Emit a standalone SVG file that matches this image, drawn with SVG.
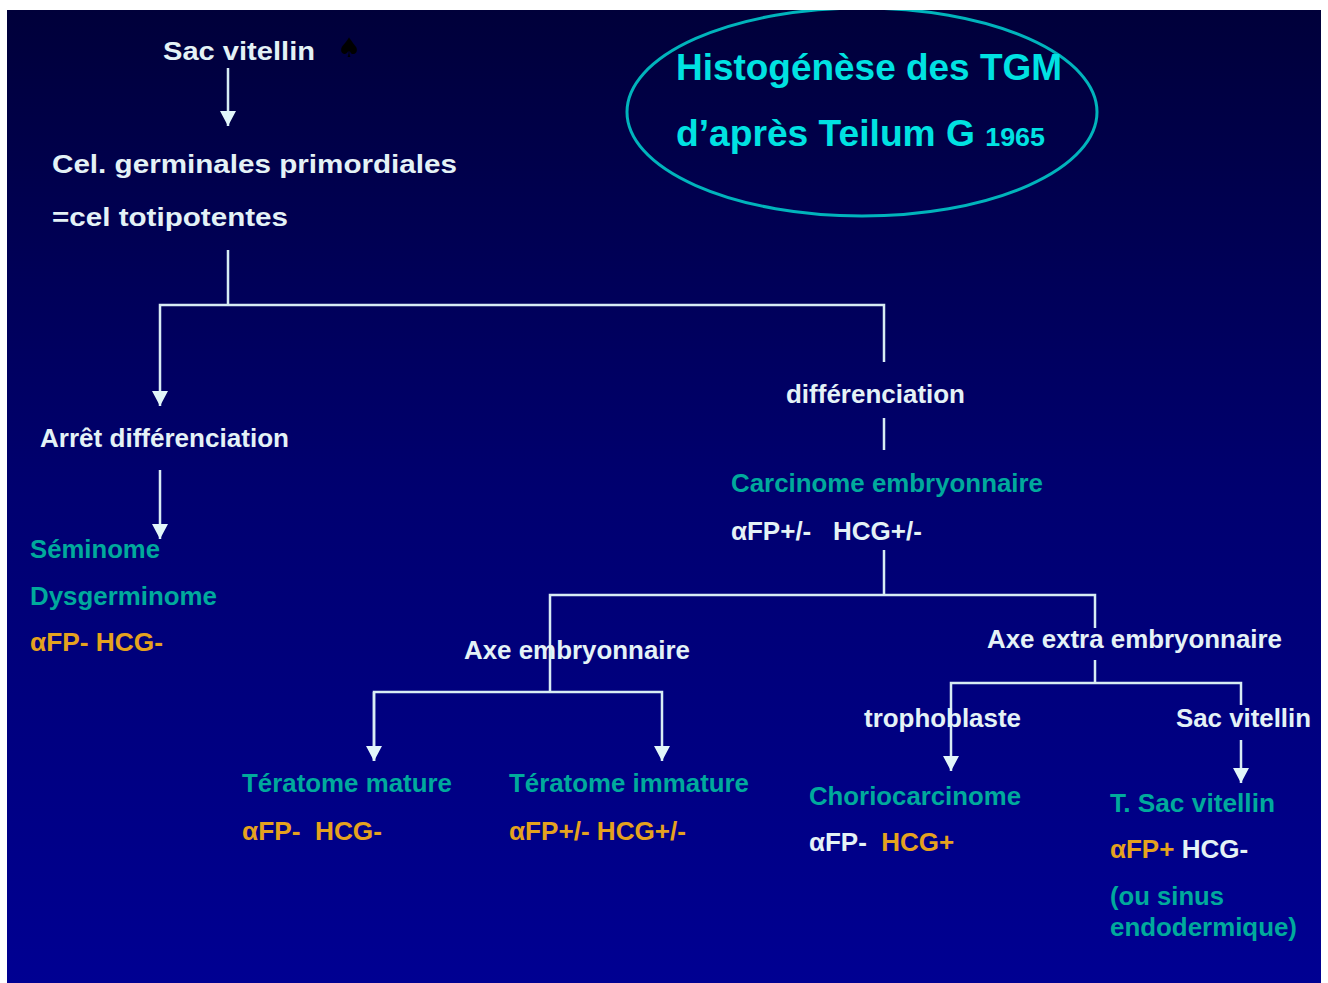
<svg xmlns="http://www.w3.org/2000/svg" width="1328" height="983" viewBox="0 0 1328 983">
<defs>
<linearGradient id="bg" x1="0" y1="0" x2="0" y2="1">
<stop offset="0" stop-color="#00003a"/>
<stop offset="0.5" stop-color="#000070"/>
<stop offset="1" stop-color="#000092"/>
</linearGradient>
<marker id="ah" markerUnits="userSpaceOnUse" markerWidth="16" markerHeight="16" refX="15" refY="8" orient="auto" viewBox="0 0 16 16">
<path d="M0,0 L15,8 L0,16 z" fill="#e2f6fa"/>
</marker>
<style>
text{font-family:"Liberation Sans",Arial,sans-serif;font-weight:bold;font-size:26px}
.w{fill:#e4f2f6}
.t{fill:#00aa9c}
.o{fill:#e5a21e}
.c{fill:#00e2e2;font-size:36px}
.ln{stroke:#d8ecf4;stroke-width:2.5;fill:none}
.ar{marker-end:url(#ah)}
</style>
</defs>
<rect x="0" y="0" width="1328" height="983" fill="#ffffff"/>
<rect x="7" y="10" width="1314" height="973" fill="url(#bg)"/>
<g id="title">
<ellipse cx="862" cy="112" rx="235" ry="104" fill="none" stroke="#00b4bc" stroke-width="3"/>
<text class="c" x="676" y="80" textLength="386" lengthAdjust="spacingAndGlyphs">Histogénèse des TGM</text>
<text class="c" x="676" y="146" textLength="369" lengthAdjust="spacingAndGlyphs">d’après Teilum G <tspan font-size="26px">1965</tspan></text>
</g>
<rect x="7" y="0" width="1314" height="10" fill="#ffffff"/>
<g id="connectors">
<line class="ln ar" x1="228" y1="68" x2="228" y2="126"/>
<polyline class="ln" points="228,250 228,305"/>
<polyline class="ln ar" points="884,362 884,305 160,305 160,406"/>
<line class="ln ar" x1="160" y1="470" x2="160" y2="539"/>
<line class="ln" x1="884" y1="418" x2="884" y2="450"/>
<polyline class="ln" points="884,550 884,595"/>
<polyline class="ln" points="550,692 550,595 1095,595 1095,628"/>
<polyline class="ln ar" points="374,761 374,692 662,692 662,761"/>
<line class="ln ar" x1="374" y1="692" x2="374" y2="761"/>
<polyline class="ln" points="1095,660 1095,683"/>
<polyline class="ln ar" points="1241,705 1241,683 951,683 951,771"/>
<line class="ln ar" x1="1241" y1="740" x2="1241" y2="783"/>
</g>
<g id="n-sac">
<text class="w" x="163" y="60" font-size="29px" textLength="152" lengthAdjust="spacingAndGlyphs">Sac vitellin</text>
<text x="337" y="57" fill="#000000" style="font-family:'DejaVu Sans',sans-serif;font-size:27px;font-weight:normal">♠</text>
</g>
<g id="n-cel">
<text class="w" x="52" y="173" font-size="29px" textLength="405" lengthAdjust="spacingAndGlyphs">Cel. germinales primordiales</text>
<text class="w" x="52" y="226" font-size="29px" textLength="236" lengthAdjust="spacingAndGlyphs">=cel totipotentes</text>
</g>
<g id="n-arret">
<text class="w" x="40" y="447" textLength="249" lengthAdjust="spacingAndGlyphs">Arrêt différenciation</text>
</g>
<g id="n-seminome">
<text class="t" x="30" y="558" textLength="130" lengthAdjust="spacingAndGlyphs">Séminome</text>
<text class="t" x="30" y="605" textLength="187" lengthAdjust="spacingAndGlyphs">Dysgerminome</text>
<text class="o" x="30" y="651" textLength="133" lengthAdjust="spacingAndGlyphs">αFP- HCG-</text>
</g>
<g id="n-diff">
<text class="w" x="786" y="403" textLength="179" lengthAdjust="spacingAndGlyphs">différenciation</text>
</g>
<g id="n-carcinome">
<text class="t" x="731" y="492" textLength="312" lengthAdjust="spacingAndGlyphs">Carcinome embryonnaire</text>
<text class="w" x="731" y="540" xml:space="preserve">αFP+/-   HCG+/-</text>
</g>
<g id="n-axe-emb">
<text class="w" x="464" y="659" textLength="226" lengthAdjust="spacingAndGlyphs">Axe embryonnaire</text>
</g>
<g id="n-axe-extra">
<text class="w" x="987" y="648" textLength="295" lengthAdjust="spacingAndGlyphs">Axe extra embryonnaire</text>
</g>
<g id="n-teratome-mature">
<text class="t" x="242" y="792" textLength="210" lengthAdjust="spacingAndGlyphs">Tératome mature</text>
<text class="o" x="242" y="840" xml:space="preserve" textLength="140" lengthAdjust="spacingAndGlyphs">αFP-  HCG-</text>
</g>
<g id="n-teratome-immature">
<text class="t" x="509" y="792" textLength="240" lengthAdjust="spacingAndGlyphs">Tératome immature</text>
<text class="o" x="509" y="840" textLength="177" lengthAdjust="spacingAndGlyphs">αFP+/- HCG+/-</text>
</g>
<g id="n-tropho">
<text class="w" x="864" y="727" textLength="157" lengthAdjust="spacingAndGlyphs">trophoblaste</text>
</g>
<g id="n-sac2">
<text class="w" x="1176" y="727" textLength="135" lengthAdjust="spacingAndGlyphs">Sac vitellin</text>
</g>
<g id="n-chorio">
<text class="t" x="809" y="805" textLength="212" lengthAdjust="spacingAndGlyphs">Choriocarcinome</text>
<text class="w" x="809" y="851" xml:space="preserve">αFP-  <tspan class="o">HCG+</tspan></text>
</g>
<g id="n-tsac">
<text class="t" x="1110" y="812" textLength="165" lengthAdjust="spacingAndGlyphs">T. Sac vitellin</text>
<text class="o" x="1110" y="858">αFP+ <tspan class="w">HCG-</tspan></text>
<text class="t" x="1110" y="905" textLength="114" lengthAdjust="spacingAndGlyphs">(ou sinus</text>
<text class="t" x="1110" y="936" textLength="187" lengthAdjust="spacingAndGlyphs">endodermique)</text>
</g>
</svg>
